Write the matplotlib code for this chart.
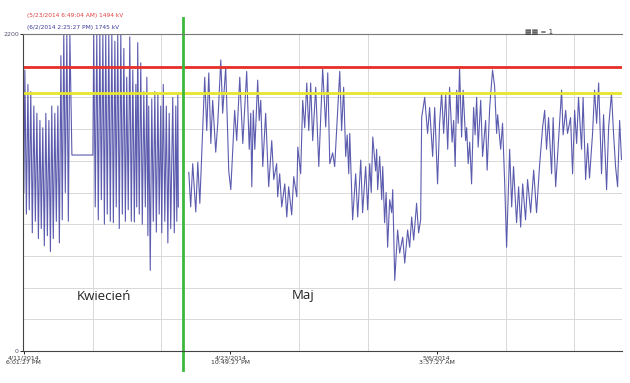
import numpy as np
import matplotlib.pyplot as plt
from matplotlib.ticker import MultipleLocator, FixedLocator
from matplotlib.transforms import blended_transform_factory

# dni od 4/11/2014 6:01:27 PM i moc w kV (ekstrema)
days = [0.00, 0.06, 0.15, 0.24, 0.32, 0.41, 0.50, 0.59, 0.68, 0.77, 0.86, 0.95,
        1.03, 1.12, 1.21, 1.30, 1.39, 1.48, 1.57, 1.65, 1.74, 1.83, 1.92, 2.01,
        2.10, 2.19, 2.27, 2.36, 2.45, 2.54, 2.63, 2.72, 2.84, 4.08, 4.13, 4.22,
        4.31, 4.40, 4.49, 4.58, 4.67, 4.76, 4.84, 4.93, 5.02, 5.11, 5.20, 5.29,
        5.38, 5.46, 5.55, 5.64, 5.73, 5.82, 5.91, 6.00, 6.08, 6.17, 6.26, 6.35,
        6.44, 6.53, 6.62, 6.67, 6.73, 6.82, 6.91, 7.00, 7.09, 7.18, 7.27, 7.33,
        7.38, 7.47, 7.56, 7.65, 7.74, 7.83, 7.92, 8.00, 8.09, 8.15, 8.24, 8.33,
        8.42, 8.51, 8.59, 8.68, 8.80, 8.89, 8.98, 9.04, 9.10, 9.13, 9.40,
        9.75, 9.86, 9.98, 10.16, 10.28, 10.40, 10.69, 10.81, 10.93, 11.05, 11.16,
        11.34, 11.46, 11.64, 11.75, 11.93, 12.11, 12.23, 12.46, 12.58, 12.76,
        12.94, 13.17, 13.32, 13.41, 13.47, 13.56, 13.65, 13.82, 13.91, 14.00,
        14.12, 14.29, 14.47, 14.65, 14.77, 14.94, 15.00, 15.12, 15.24, 15.42,
        15.54, 15.65, 15.83, 15.95, 16.13, 16.19, 16.36, 16.48, 16.60, 16.72,
        16.84, 16.95, 17.07, 17.25, 17.43, 17.66, 17.84, 17.96, 18.08, 18.25,
        18.37, 18.67, 18.78, 18.90, 19.02, 19.11, 19.20, 19.26, 19.43, 19.61,
        19.73, 19.91, 20.02, 20.20, 20.32, 20.44, 20.53, 20.62, 20.79, 20.85,
        20.91, 21.03, 21.15, 21.21, 21.32, 21.41, 21.50, 21.62, 21.74, 21.80,
        21.92, 22.09, 22.21, 22.39, 22.51, 22.68, 22.80, 22.92, 23.04, 23.21,
        23.33, 23.45, 23.51, 23.69, 23.86, 23.98, 24.16, 24.28, 24.45, 24.57,
        24.69, 24.81, 24.93, 25.05, 25.16, 25.31, 25.40, 25.49, 25.58, 25.67,
        25.75, 25.87, 25.96, 26.11, 26.17, 26.26, 26.35, 26.46, 26.58, 26.67,
        26.76, 26.85, 27.00, 27.11, 27.29, 27.38, 27.53, 27.70, 27.82, 27.94,
        28.00, 28.18, 28.29, 28.41, 28.53, 28.71, 28.83, 28.94, 29.12, 29.24,
        29.36, 29.48, 29.65, 29.77, 29.95, 30.13, 30.30, 30.48, 30.66, 30.78,
        30.89, 31.01, 31.19, 31.28, 31.43, 31.78, 31.87, 32.02, 32.13, 32.31,
        32.43, 32.55, 32.67, 32.78, 32.96, 33.05, 33.20, 33.32, 33.43, 33.61,
        33.73, 33.85, 33.97, 34.14, 34.26, 34.44, 34.56, 34.73, 34.85, 34.97,
        35.09, 35.21, 35.32]
kv = [1100, 1950, 950, 1850, 980, 1800, 820, 1700, 900, 1650, 780, 1600,
      850, 1550, 730, 1650, 800, 1600, 690, 1700, 780, 1650, 900, 1700,
      750, 2050, 910, 2200, 1100, 2200, 900, 2200, 1360, 1360, 2200, 1000,
      2200, 910, 2200, 1050, 2200, 880, 2200, 950, 2200, 900, 2200, 890,
      2150, 1000, 2200, 850, 2200, 950, 2100, 900, 1900, 980, 2180, 900,
      1950, 895, 1850, 1000, 2140, 950, 2000, 880, 1800, 1000, 1900, 800,
      1700, 560, 1750, 900, 1800, 825, 1790, 950, 1700, 820, 1850, 900,
      1700, 750, 1650, 850, 1760, 820, 1700, 900, 1790, 1000, np.nan,
      1240, 1000, 1300, 965, 1310, 1025, 1900, 1530, 1930, 1440, 1740,
      1380, 1580, 2020, 1650, 1970, 1250, 1120, 1670, 1460, 1900,
      1440, 1940, 1400, 1650, 1140, 1670, 1400, 1880, 1600, 1740,
      1280, 1650, 1140, 1460, 1190, 1300, 1070, 1230, 1000, 1160,
      930, 1140, 945, 1210, 1070, 1415, 1230, 1740, 1550, 1860,
      1530, 1860, 1460, 1830, 1280, 1960, 1555, 1930, 1300, 1375,
      1280, 1940, 1530, 1830, 1350, 1500, 1230, 1510, 910, 1230,
      930, 1325, 960, 1280, 980, 1300, 1100, 1485, 1250, 1400,
      1120, 1350, 1050, 1280, 890, 1100, 720, 1050, 960, 1120,
      490, 840, 680, 790, 610, 840, 720, 930, 770, 1025,
      820, 910, 1620, 1760, 1510, 1690, 1350, 1690, 1160, 1580,
      1790, 1510, 1780, 1400, 1830, 1450, 1600, 1280, 1810, 1580,
      1970, 1485, 1810, 1460, 1550, 1300, 1450, 1160, 1690, 1500,
      1760, 1415, 1740, 1350, 1600, 1255, 1690, 1950, 1840, 1510,
      1640, 1400, 1580, 1190, 720, 1400, 1000, 1280, 890, 1140,
      860, 1160, 910, 1190, 960, 1255, 960, 1290, 1555, 1670,
      1400, 1620, 1230, 1620, 1140, 1810, 1500, 1670, 1510, 1620,
      1230, 1670, 1440, 1760, 1400, 1760, 1190, 1440, 1200, 1510,
      1810, 1580, 1860, 1230, 1640, 1120, 1555, 1790, 1510, 1280,
      1140, 1600, 1330]

red_level = 1970
yellow_level = 1790
marker_day = 9.39
tick_days = [0.0, 12.2, 24.4]
tick_labels = ['4/11/2014\n6:01:27 PM', '4/23/2014\n10:49:27 PM', '5/6/2014\n3:37:27 AM']

fig = plt.figure(figsize=(6.3, 3.83), dpi=100)
ax = fig.add_axes([23 / 630, 1 - 351 / 383, 599 / 630, 317 / 383])

ax.plot(days, kv, color='#4a4aa6', lw=0.8, alpha=0.9)
ax.axhline(red_level, color='#e8302a', lw=2)
ax.axhline(yellow_level, color='#e6e62e', lw=2)
ax.axvline(marker_day, ymin=-0.06, ymax=1.05, color='#3cb83c', lw=2, clip_on=False)

ax.set_xlim(-0.05, 35.35)
ax.set_ylim(0, 2200)

# siatka
ax.xaxis.set_minor_locator(MultipleLocator(12.2 / 3))
ax.yaxis.set_minor_locator(MultipleLocator(220))
ax.grid(which='minor', color='#d8d8d8', lw=0.7)
ax.tick_params(which='minor', length=0)

ax.set_xticks(tick_days)
ax.set_xticklabels(tick_labels, fontsize=4.5, color='#333333', linespacing=0.9)
ax.set_yticks([0, 2200])
ax.set_yticklabels(['0', '2200'], fontsize=4.5, color='#555577')
ax.tick_params(axis='x', length=2, width=0.6, pad=1)
ax.tick_params(axis='y', length=2, width=0.6, pad=1)

for s in ['left', 'bottom']:
    ax.spines[s].set_color('#444444')
    ax.spines[s].set_linewidth(0.8)
ax.spines['top'].set_color('#777777')
ax.spines['top'].set_linewidth(0.8)
ax.spines['right'].set_visible(False)

fig.text(27 / 630, 1 - 15 / 383, '(5/23/2014 6:49:04 AM) 1494 kV', color='#e04040',
         fontsize=4.2, va='center')
fig.text(27 / 630, 1 - 27 / 383, '(6/2/2014 2:25:27 PM) 1745 kV', color='#3a3a9a',
         fontsize=4.2, va='center')
fig.text(525 / 630, 1 - 31 / 383, '\u25a6\u25a6 = 1', color='#333333', fontsize=5,
         va='center')

ax.text(81 / 599, (351 - 296) / 317, 'Kwiecień', transform=ax.transAxes,
        fontsize=9.5, family='Open Sans', ha='center', va='center', color='#222222')
ax.text(280 / 599, (351 - 296) / 317, 'Maj', transform=ax.transAxes,
        fontsize=9.5, family='Open Sans', ha='center', va='center', color='#222222')

fig.savefig('out.png', dpi=100)
